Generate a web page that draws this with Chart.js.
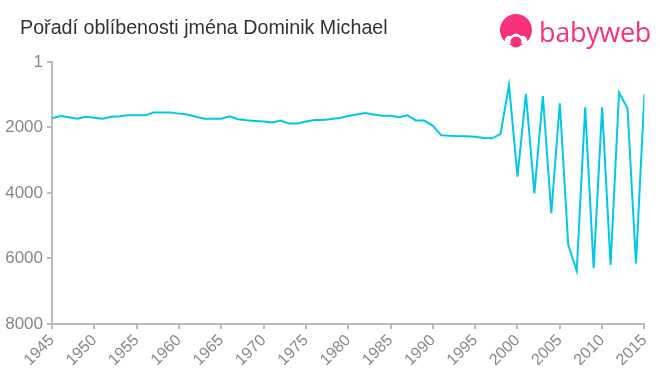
<!DOCTYPE html>
<html>
<head>
<meta charset="utf-8">
<script src="https://cdn.jsdelivr.net/npm/chart.js@4"></script>
<style>
  html, body { margin: 0; padding: 0; background: #fff; }
  #wrap { position: relative; width: 660px; height: 375px; overflow: hidden; }
  #title { position: absolute; left: 20px; top: 16px; font: 19.7px "Liberation Sans", Arial, sans-serif; color: #333; white-space: nowrap; }
  #logo { position: absolute; left: 499px; top: 14px; display: flex; align-items: center; }
  #logo span { font: 27px "Open Sans", "Liberation Sans", sans-serif; color: #f7307c; margin-left: 6px; letter-spacing: -0.3px; line-height: 36px; }
  canvas { position: absolute; left: 0; top: 0; }
</style>
</head>
<body>
<div id="wrap">
  <canvas id="chart" width="660" height="375"></canvas>
  <div id="title">Pořadí oblíbenosti jména Dominik Michael</div>
  <div id="logo">
    <svg width="34" height="36" viewBox="0 0 34 36">
      <circle cx="17" cy="16" r="16" fill="#f7307c"/>
      <path d="M5 30 Q6 20 12 22 Q17 17 22 22 Q28 20 29 30 Z" fill="#fff"/>
      <circle cx="17" cy="28" r="5.5" fill="#f7307c"/>
    </svg>
    <span>babyweb</span>
  </div>
</div>
<script>
// roky a pořadí jména (čteno z obrázku)
const years = [
  1945, 1946, 1947, 1948, 1949, 1950, 1951, 1952, 1953, 1954,
  1955, 1956, 1957, 1958, 1959, 1960, 1961, 1962, 1963, 1964,
  1965, 1966, 1967, 1968, 1969, 1970, 1971, 1972, 1973, 1974,
  1975, 1976, 1977, 1978, 1979, 1980, 1981, 1982, 1983, 1984,
  1985, 1986, 1987, 1988, 1989, 1990, 1991, 1992, 1993, 1994,
  1995, 1996, 1997, 1998, 1999, 2000, 2001, 2002, 2003, 2004,
  2005, 2006, 2007, 2008, 2009, 2010, 2011, 2012, 2013, 2014,
  2015
];
const ranks = [
  1720, 1650, 1690, 1730, 1670, 1700, 1730, 1670, 1660, 1630,
  1630, 1630, 1546, 1546, 1546, 1577, 1607, 1670, 1730, 1730,
  1730, 1660, 1750, 1780, 1800, 1820, 1850, 1790, 1880, 1880,
  1820, 1770, 1770, 1740, 1710, 1650, 1607, 1556, 1607, 1640,
  1640, 1690, 1630, 1790, 1790, 1950, 2240, 2250, 2270, 2270,
  2280, 2320, 2330, 2200, 700, 3500, 977, 4010, 1040, 4620,
  1260, 5590, 6380, 1385, 6300, 1385, 6200, 935, 1415, 6150,
  977
];
const yTicks = [1, 2000, 4000, 6000, 8000];

const axisColor = '#bbbbbb';
const labelColor = '#888888';

const ctx = document.getElementById('chart').getContext('2d');
new Chart(ctx, {
  type: 'line',
  data: {
    datasets: [{
      data: years.map((y, i) => ({ x: y, y: ranks[i] })),
      borderColor: '#00c8e6',
      borderWidth: 2,
      pointRadius: 0,
      tension: 0,
      fill: false
    }]
  },
  options: {
    responsive: false,
    animation: false,
    layout: { padding: { top: 62, right: 13, left: 0, bottom: 0 } },
    plugins: { legend: { display: false }, tooltip: { enabled: false } },
    scales: {
      x: {
        type: 'linear',
        min: 1945,
        max: 2015,
        afterFit: s => { s.height = 51; },
        ticks: {
          stepSize: 5,
          maxRotation: 45,
          minRotation: 45,
          color: labelColor,
          font: { family: 'Liberation Sans', size: 16 },
          callback: v => String(v),
          padding: 2
        },
        grid: { drawOnChartArea: false, drawTicks: true, tickLength: 5, color: axisColor, lineWidth: 2 },
        border: { color: axisColor, width: 2 }
      },
      y: {
        reverse: true,
        min: 1,
        max: 8000,
        afterFit: s => { s.width = 52; },
        afterBuildTicks: s => { s.ticks = yTicks.map(v => ({ value: v })); },
        ticks: {
          color: labelColor,
          font: { family: 'Liberation Sans', size: 17 },
          callback: v => String(v),
          padding: 4
        },
        grid: { drawOnChartArea: false, drawTicks: true, tickLength: 5, color: axisColor, lineWidth: 2 },
        border: { color: axisColor, width: 2 }
      }
    }
  }
});
</script>
</body>
</html>
